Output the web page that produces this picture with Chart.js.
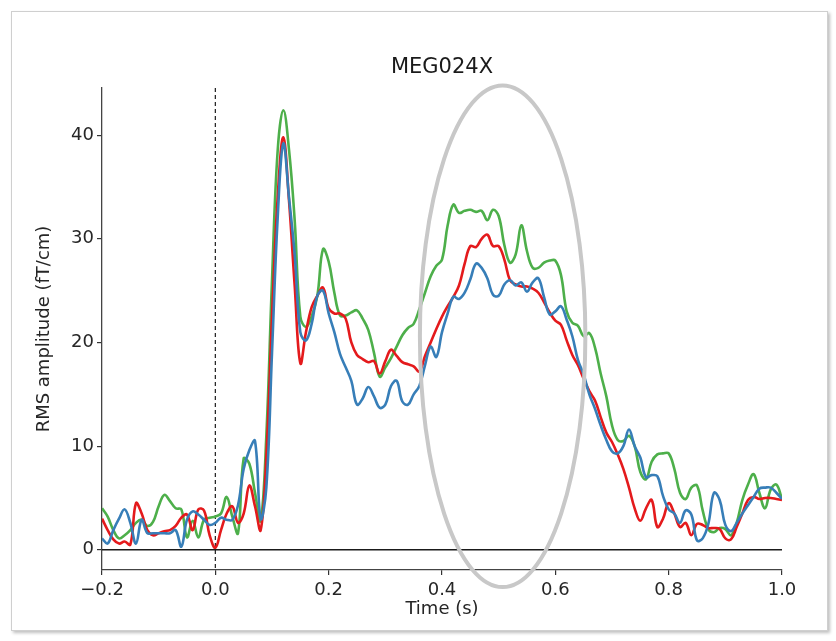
<!DOCTYPE html>
<html>
<head>
<meta charset="utf-8">
<script src="https://cdn.jsdelivr.net/npm/chart.js@4.4.0/dist/chart.umd.min.js"></script>
<style>
  body { margin: 0; background: #fff; }
  #frame { position: absolute; left: 11px; top: 11px; width: 815px; height: 618px; border: 1px solid #cfcfcf; box-shadow: 2px 2px 3px rgba(0,0,0,0.25); }
  #wrap { position: absolute; left: 0; top: 0; width: 836px; height: 641px; }
</style>
</head>
<body>
<div id="frame"></div>
<div id="wrap"><canvas id="graphique"></canvas></div>
<script>
// RMS amplitude, one value every 10 ms from -0.2 s to 1.0 s
var redRms = [3.0, 1.9, 1.0, 0.6, 0.8, 0.5, 4.5, 3.5, 1.9, 1.4,
  1.6, 1.8, 1.9, 2.3, 3.1, 3.4, 1.9, 3.9, 3.8, 1.4,
  0.2, 1.9, 3.5, 4.2, 2.6, 3.5, 6.2, 4.2, 1.9, 9.0,
  22.5, 34.0, 39.8, 33.7, 25.5, 18.0, 21.0, 23.4, 24.5, 25.3,
  23.3, 22.8, 22.8, 22.3, 20.0, 18.8, 18.4, 18.1, 18.2, 17.0,
  18.2, 19.3, 18.7, 18.1, 17.9, 17.7, 17.2, 18.7, 20.0, 21.3,
  22.5, 23.5, 24.4, 25.5, 27.6, 29.3, 29.2, 30.0, 30.4, 29.3,
  29.3, 28.0, 26.0, 25.6, 25.4, 25.4, 25.2, 24.8, 23.9, 22.9,
  22.1, 21.7, 20.2, 18.8, 17.8, 16.5, 15.3, 14.4, 12.8, 11.3,
  10.4, 9.2, 7.8, 6.0, 4.0, 2.8, 4.0, 4.8, 2.2, 3.0,
  4.5, 3.5, 2.2, 2.6, 1.4, 2.5, 2.4, 2.1, 2.1, 2.0,
  1.1, 1.0, 2.2, 3.5, 4.8, 5.1, 4.9, 5.0, 5.0, 4.9,
  4.8];

var blueRms = [1.1, 0.6, 1.9, 3.0, 3.9, 2.6, 0.6, 2.9, 1.6, 1.6,
  1.6, 1.6, 1.6, 1.9, 0.3, 2.9, 3.7, 3.4, 2.9, 2.4,
  2.6, 3.1, 2.9, 2.9, 4.3, 7.8, 9.6, 10.5, 3.0, 6.0,
  19.0, 32.0, 39.2, 34.0, 28.5, 21.0, 20.2, 21.8, 24.5, 25.0,
  22.8, 21.0, 18.9, 17.6, 16.3, 14.0, 14.6, 15.7, 14.8, 13.7,
  14.0, 15.8, 16.3, 14.3, 14.0, 15.0, 15.8, 17.8, 19.6, 18.6,
  21.0, 22.8, 24.4, 24.2, 24.8, 26.1, 27.6, 27.2, 26.2, 24.6,
  24.5, 25.6, 26.0, 25.5, 25.8, 24.9, 25.8, 26.2, 24.4, 22.7,
  23.0, 23.5, 22.2, 20.6, 18.3, 16.9, 15.0, 13.6, 12.0, 10.6,
  9.5, 9.3, 10.0, 11.6, 10.0, 8.9, 7.0, 7.2, 7.1, 5.2,
  3.9, 3.5, 2.6, 3.8, 3.4, 0.9, 1.1, 2.5, 5.5, 4.8,
  2.4, 1.8, 2.6, 3.5, 4.3, 5.1, 5.9, 6.0, 6.0, 5.5,
  4.9];

var greenRms = [4.0, 3.2, 1.9, 1.1, 1.4, 1.9, 2.6, 2.9, 2.3, 2.7,
  4.2, 5.3, 4.7, 4.0, 3.9, 1.2, 2.8, 1.2, 2.9, 3.1,
  3.2, 3.5, 5.1, 3.2, 1.6, 8.8, 8.3, 5.5, 2.8, 11.0,
  26.0, 38.5, 42.4, 38.6, 31.8, 22.5, 21.5, 22.5, 24.5, 29.0,
  27.8, 24.8, 22.6, 22.6, 22.9, 23.1, 22.3, 21.2, 19.0, 16.7,
  17.6, 18.5, 19.6, 20.7, 21.4, 21.8, 23.2, 24.8, 26.4, 27.4,
  28.0, 31.3, 33.3, 32.5, 32.7, 32.8, 32.6, 32.7, 31.8, 32.8,
  32.2, 29.4, 27.7, 28.5, 31.3, 28.8, 27.2, 27.2, 27.7, 27.9,
  27.9, 26.5, 23.0, 21.9, 21.6, 20.6, 20.9, 19.5, 17.0, 14.8,
  12.0, 10.6, 10.5, 11.0, 10.0, 7.5, 6.8, 8.5, 9.2, 9.3,
  9.3, 7.8, 5.5, 4.9, 6.0, 6.2, 3.8, 2.0, 1.7, 2.1,
  2.0, 1.4, 2.6, 4.8, 6.3, 7.3, 5.5, 4.0, 5.8, 6.3,
  4.9];

var xTicks = [-0.2, 0.0, 0.2, 0.4, 0.6, 0.8, 1.0];
var yTicks = [0, 10, 20, 30, 40];

// grey ellipse around the late response (data units)
var ellipseCenter = [0.507, 20.6];
var ellipseRadius = [0.146, 24.2];

// sample times, 10 ms apart
var times = redRms.map(function (v, i) { return Math.round((-0.2 + i * 0.01) * 100) / 100; });

function toPoints(values) {
  return values.map(function (v, i) { return {x: times[i], y: v}; });
}

function tickList(list) {
  return list.map(function (v) { return {value: v}; });
}

Chart.defaults.font.family = "'DejaVu Sans', sans-serif";
Chart.defaults.color = '#262626';

var decor = {
  id: 'decor',
  beforeDatasetsDraw: function (chart) {
    var ctx = chart.ctx, area = chart.chartArea;
    var sx = chart.scales.x, sy = chart.scales.y;
    ctx.save();
    // horizontal line at zero
    ctx.strokeStyle = '#1a1a1a';
    ctx.lineWidth = 1.6;
    ctx.beginPath();
    ctx.moveTo(area.left, sy.getPixelForValue(0));
    ctx.lineTo(area.right, sy.getPixelForValue(0));
    ctx.stroke();
    // stimulus onset
    ctx.setLineDash([4, 3]);
    ctx.lineWidth = 1.2;
    ctx.beginPath();
    ctx.moveTo(sx.getPixelForValue(0), area.top);
    ctx.lineTo(sx.getPixelForValue(0), area.bottom);
    ctx.stroke();
    ctx.restore();
  },
  afterDraw: function (chart) {
    var ctx = chart.ctx, area = chart.chartArea;
    var sx = chart.scales.x, sy = chart.scales.y;
    ctx.save();
    var cx = sx.getPixelForValue(ellipseCenter[0]);
    var cy = sy.getPixelForValue(ellipseCenter[1]);
    var rx = sx.getPixelForValue(ellipseCenter[0] + ellipseRadius[0]) - cx;
    var ry = cy - sy.getPixelForValue(ellipseCenter[1] + ellipseRadius[1]);
    ctx.strokeStyle = '#c8c8c8';
    ctx.lineWidth = 4;
    ctx.beginPath();
    ctx.ellipse(cx, cy, rx, ry, 0, 0, 2 * Math.PI);
    ctx.stroke();
    // title
    ctx.fillStyle = '#1a1a1a';
    ctx.font = "21px 'DejaVu Sans'";
    ctx.textAlign = 'center';
    ctx.textBaseline = 'middle';
    ctx.fillText('MEG024X', (area.left + area.right) / 2, 68);
    ctx.restore();
  }
};

var ctx = document.getElementById('graphique');

var myChartConfig = {
  type: 'line',
  data: {
    datasets: [
      {label: 'blue', data: toPoints(blueRms), borderColor: '#377eb8', order: 1},
      {label: 'red', data: toPoints(redRms), borderColor: '#e41a1c', order: 2},
      {label: 'green', data: toPoints(greenRms), borderColor: '#4daf4a', order: 3}
    ]
  },
  options: {
    responsive: true,
    maintainAspectRatio: false,
    animation: false,
    layout: {padding: {left: 27, right: 54, top: 88, bottom: 15}},
    elements: {
      line: {borderWidth: 2.6, tension: 0.4, fill: false},
      point: {radius: 0}
    },
    plugins: {legend: {display: false}, tooltip: {enabled: false}},
    scales: {
      x: {
        type: 'linear',
        min: -0.2,
        max: 1.0,
        afterBuildTicks: function (s) { s.ticks = tickList(xTicks); },
        afterFit: function (s) { s.height = 56; },
        ticks: {
          font: {size: 18},
          padding: 5,
          maxRotation: 0,
          callback: function (v) { return (v < 0 ? '\u2212' : '') + Math.abs(v).toFixed(1); }
        },
        grid: {drawOnChartArea: false, drawTicks: true, tickLength: 5, color: '#333', lineWidth: 1.2},
        border: {display: true, color: '#444', width: 1.3},
        title: {display: true, text: 'Time (s)', font: {size: 18}, padding: {top: 0, bottom: 6}}
      },
      y: {
        min: -1.95,
        max: 44.55,
        afterBuildTicks: function (s) { s.ticks = tickList(yTicks); },
        afterFit: function (s) { s.width = 75; },
        ticks: {font: {size: 18}, padding: 3},
        grid: {drawOnChartArea: false, drawTicks: true, tickLength: 5, color: '#333', lineWidth: 1.2},
        border: {display: true, color: '#444', width: 1.3},
        title: {display: true, text: 'RMS amplitude (fT/cm)', font: {size: 18}, padding: {top: 7, bottom: 0}}
      }
    }
  },
  plugins: [decor]
};

var myChart = new Chart(ctx, myChartConfig);
</script>
</body>
</html>
